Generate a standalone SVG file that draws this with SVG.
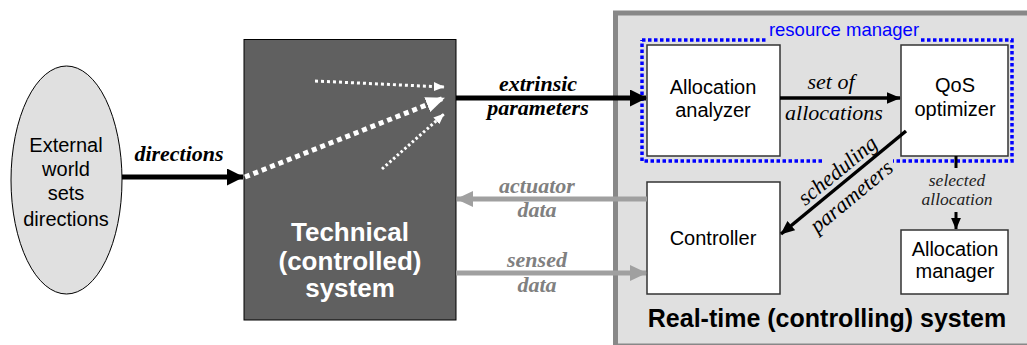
<svg xmlns="http://www.w3.org/2000/svg" width="1027" height="345" viewBox="0 0 1027 345">
<style>
.sans{font-family:"Liberation Sans",Arial,sans-serif}
.serif{font-family:"Liberation Serif","Times New Roman",serif}
.box{fill:#fff;stroke:#333;stroke-width:1.5}
.lbl{font-size:20px;text-anchor:middle;fill:#000}
.bi{font-size:22px;font-weight:bold;font-style:italic;text-anchor:middle}
.it{font-size:22px;font-style:italic;text-anchor:middle}
</style>
<defs>
<marker id="ab" markerWidth="3.4" markerHeight="3.4" refX="3.2" refY="1.7" orient="auto" markerUnits="strokeWidth"><path d="M0,0 L3.4,1.7 L0,3.4 z" fill="#000"/></marker>
<marker id="ab3" markerWidth="4" markerHeight="3.4" refX="3.8" refY="1.7" orient="auto" markerUnits="strokeWidth"><path d="M0,0 L4,1.7 L0,3.4 z" fill="#000"/></marker>
<marker id="ag" markerWidth="3.4" markerHeight="3.2" refX="3.2" refY="1.6" orient="auto" markerUnits="strokeWidth"><path d="M0,0 L3.4,1.6 L0,3.2 z" fill="#a0a0a0"/></marker>
<marker id="aw" markerWidth="3.6" markerHeight="3" refX="3.4" refY="1.5" orient="auto" markerUnits="strokeWidth"><path d="M0,0 L3.6,1.5 L0,3 z" fill="#fff"/></marker>
<marker id="aw3" markerWidth="3.8" markerHeight="3.2" refX="3.6" refY="1.6" orient="auto" markerUnits="strokeWidth"><path d="M0,0 L3.8,1.6 L0,3.2 z" fill="#fff"/></marker>
</defs>
<rect width="1027" height="345" fill="#fff"/>

<g id="realtime-system">
<rect x="615.5" y="13" width="420" height="333" fill="#e0e0e0" stroke="#888" stroke-width="5"/>
<text class="sans" x="827" y="327" font-size="25" font-weight="bold" text-anchor="middle">Real-time (controlling) system</text>
</g>

<g id="resource-manager">
<path d="M642,40 H766 M921,40 H1012 V161 H893 M822,161 H642 V40" fill="none" stroke="#0000ff" stroke-width="3.5" stroke-dasharray="3.5 2.5"/>
<text class="sans" x="844" y="36" font-size="18.5" fill="#0000ff" text-anchor="middle">resource manager</text>
</g>

<g id="external-world">
<ellipse cx="66.5" cy="180" rx="55.5" ry="114" fill="#e0e0e0" stroke="#000" stroke-width="1"/>
<text class="sans lbl" x="66" y="152" font-size="22">External</text>
<text class="sans lbl" x="66" y="176" font-size="22">world</text>
<text class="sans lbl" x="66" y="200" font-size="22">sets</text>
<text class="sans lbl" x="66" y="226" font-size="22">directions</text>
</g>

<g id="technical-system">
<rect x="244" y="39.5" width="212" height="280.5" fill="#606060" stroke="#000" stroke-width="1"/>
<text class="sans" x="350" y="241" font-size="26" font-weight="bold" fill="#fff" text-anchor="middle">Technical</text>
<text class="sans" x="350" y="270" font-size="26" font-weight="bold" fill="#fff" text-anchor="middle">(controlled)</text>
<text class="sans" x="350" y="297" font-size="26" font-weight="bold" fill="#fff" text-anchor="middle">system</text>
</g>

<g id="allocation-analyzer">
<rect class="box" x="647" y="45" width="133" height="111"/>
<text class="sans lbl" x="713" y="94">Allocation</text>
<text class="sans lbl" x="713" y="117">analyzer</text>
</g>

<g id="qos-optimizer">
<rect class="box" x="901" y="45" width="107" height="111"/>
<text class="sans lbl" x="955" y="92">QoS</text>
<text class="sans lbl" x="955" y="116">optimizer</text>
</g>

<g id="controller">
<rect class="box" x="647" y="182" width="133" height="112"/>
<text class="sans lbl" x="713" y="245" font-size="17.5">Controller</text>
</g>

<g id="allocation-manager">
<rect class="box" x="901" y="230" width="107" height="64"/>
<text class="sans lbl" x="955" y="256">Allocation</text>
<text class="sans lbl" x="955" y="278">manager</text>
</g>

<g id="connectors">
<line x1="122" y1="177" x2="243" y2="177" stroke="#000" stroke-width="5" marker-end="url(#ab)"/>
<text class="serif bi" x="179" y="161">directions</text>

<line x1="315" y1="81" x2="444" y2="87" stroke="#fff" stroke-width="3" stroke-dasharray="3 3" marker-end="url(#aw)"/>
<line x1="245" y1="177" x2="444" y2="98" stroke="#fff" stroke-width="5" stroke-dasharray="5 4" marker-end="url(#aw3)"/>
<line x1="382" y1="169" x2="444" y2="114" stroke="#fff" stroke-width="3" stroke-dasharray="2.5 2.5" marker-end="url(#aw)"/>

<line x1="456" y1="98" x2="646" y2="98" stroke="#000" stroke-width="5" marker-end="url(#ab)"/>
<text class="serif bi" x="538" y="91">extrinsic</text>
<text class="serif bi" x="538" y="115">parameters</text>

<line x1="780" y1="98" x2="900" y2="98" stroke="#000" stroke-width="3.5" marker-end="url(#ab3)"/>
<text class="serif it" x="831" y="89">set of</text>
<text class="serif it" x="834" y="120">allocations</text>

<line x1="906" y1="131" x2="781" y2="234" stroke="#000" stroke-width="3.5" marker-end="url(#ab3)"/>
<text class="serif it" transform="translate(842,176) rotate(-39.5)">scheduling</text>
<text class="serif it" transform="translate(856,202) rotate(-39.5)">parameters</text>

<line x1="956" y1="156" x2="956" y2="168" stroke="#000" stroke-width="3"/>
<line x1="956" y1="212" x2="956" y2="229" stroke="#000" stroke-width="3" marker-end="url(#ab3)"/>
<text class="serif" x="957" y="186" font-size="17.5" font-style="italic" fill="#222" text-anchor="middle">selected</text>
<text class="serif" x="957" y="205" font-size="17.5" font-style="italic" fill="#222" text-anchor="middle">allocation</text>

<line x1="647" y1="199" x2="457" y2="199" stroke="#a0a0a0" stroke-width="5" marker-end="url(#ag)"/>
<text class="serif bi" x="537" y="193" fill="#808080">actuator</text>
<text class="serif bi" x="537" y="217" fill="#808080">data</text>

<line x1="456" y1="273" x2="646" y2="273" stroke="#a0a0a0" stroke-width="5" marker-end="url(#ag)"/>
<text class="serif bi" x="537" y="267" fill="#808080">sensed</text>
<text class="serif bi" x="537" y="292" fill="#808080">data</text>
</g>
</svg>
